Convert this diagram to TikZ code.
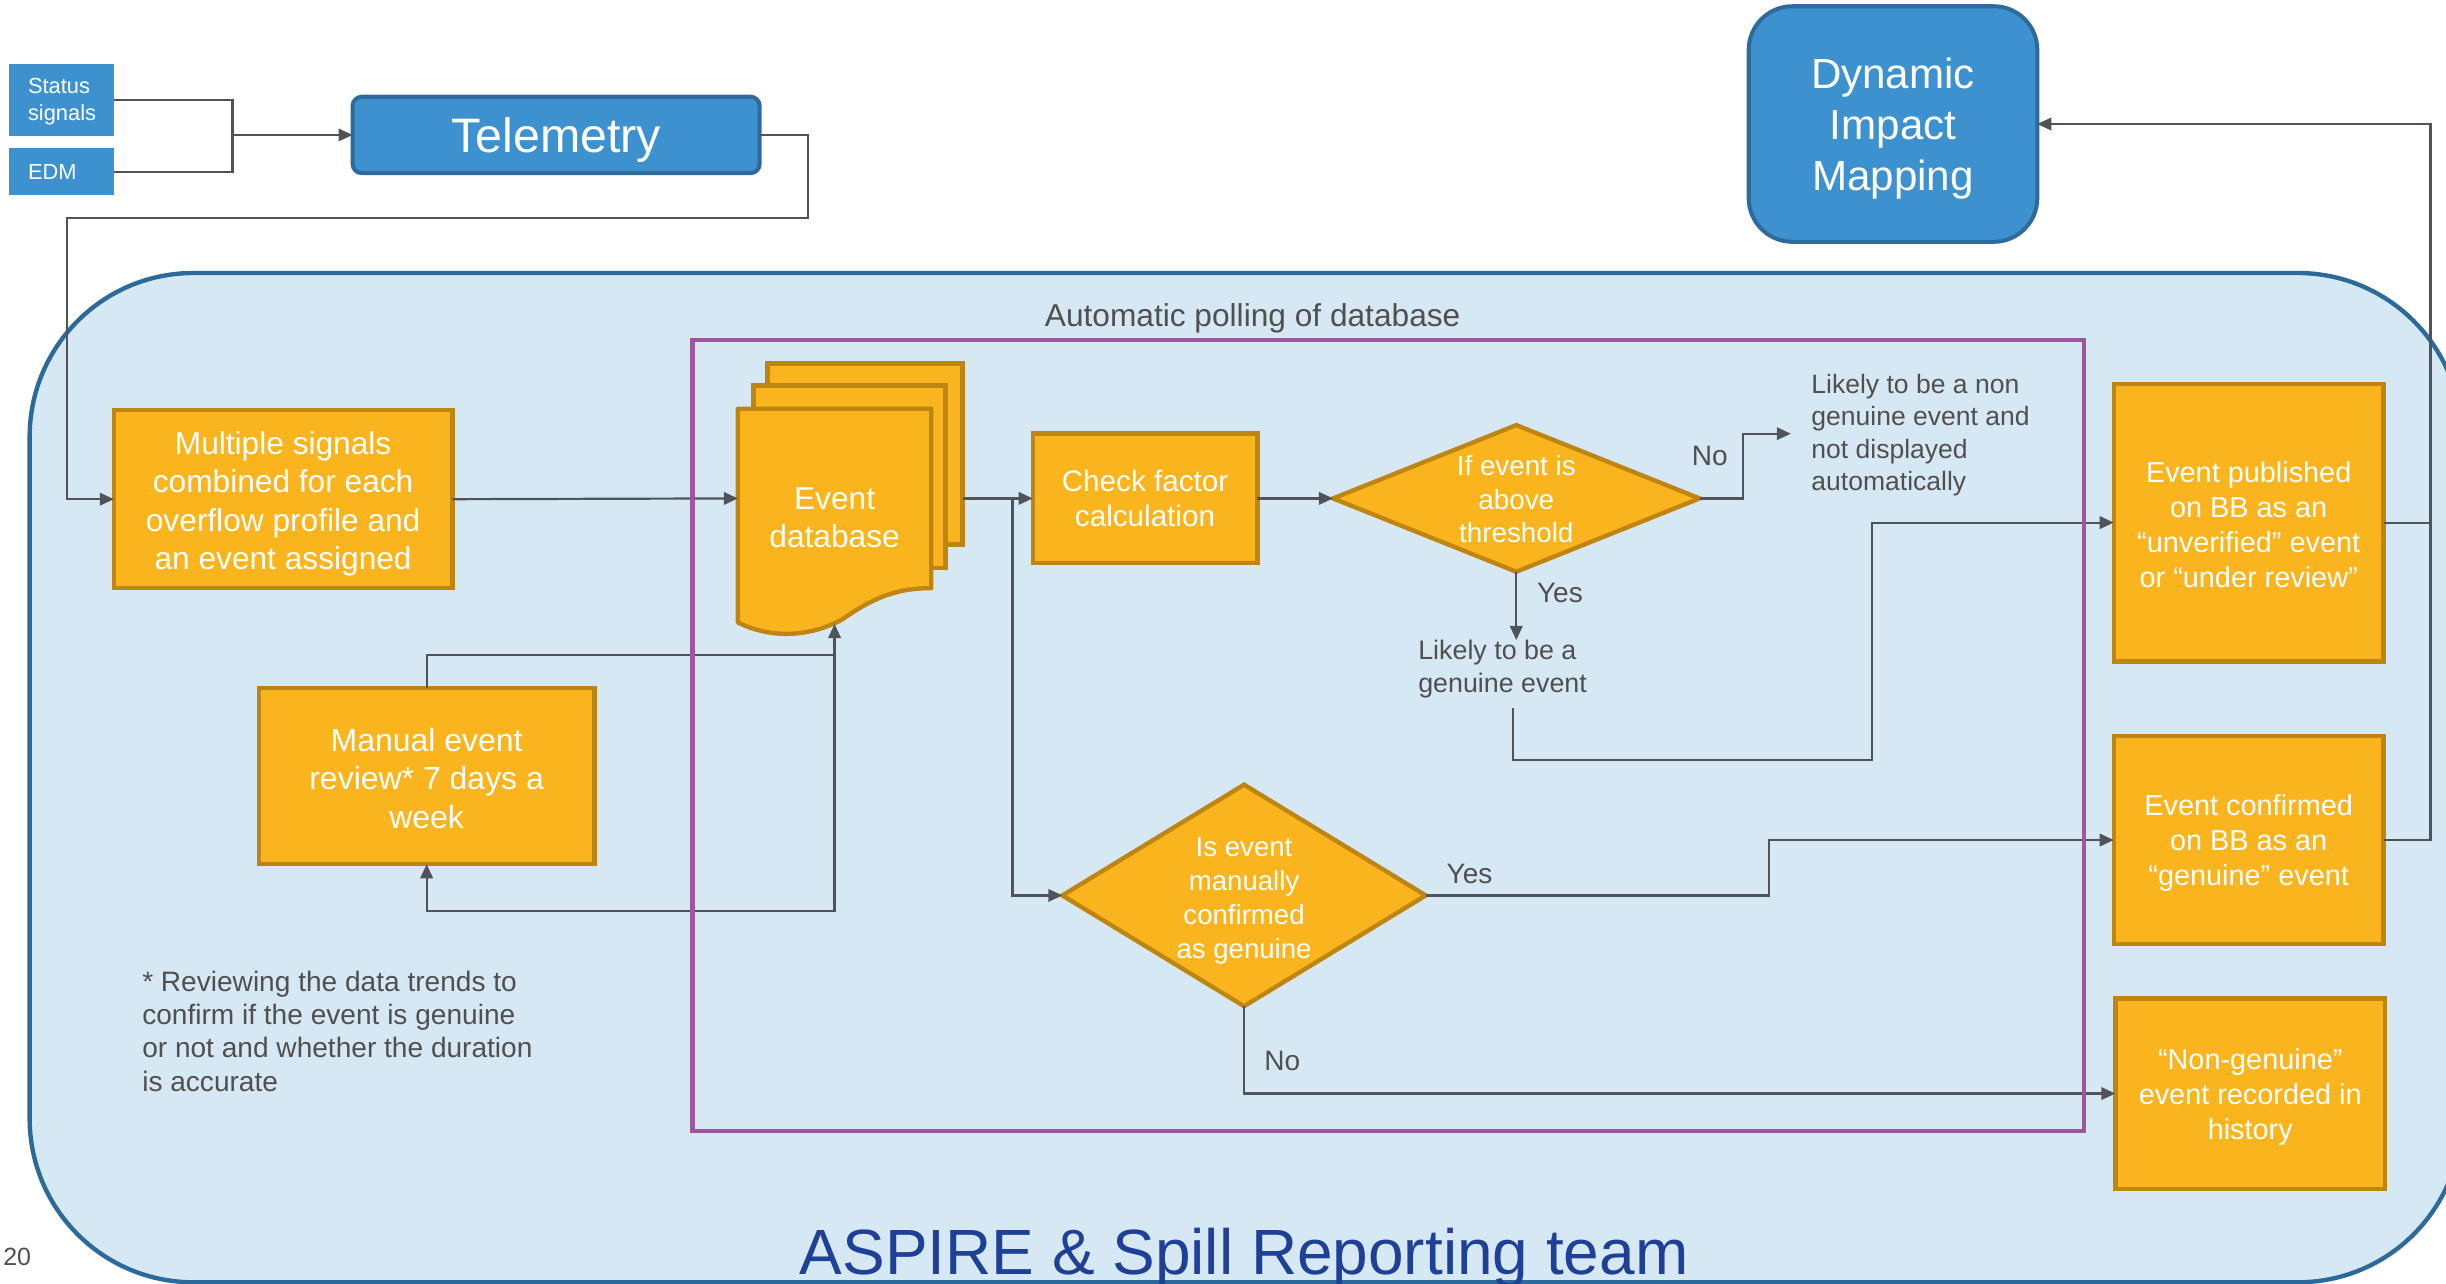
\documentclass[tikz,border=0pt]{standalone}
\usepackage{fontspec}
\setmainfont{Liberation Sans}
\usetikzlibrary{arrows.meta,shapes.geometric,calc}
\definecolor{blueF}{RGB}{61,145,207}
\definecolor{blueD}{RGB}{46,106,156}
\definecolor{bigF}{RGB}{215,232,245}
\definecolor{bigD}{RGB}{44,106,155}
\definecolor{orF}{RGB}{250,180,30}
\definecolor{orD}{RGB}{190,133,18}
\definecolor{purp}{RGB}{160,86,158}
\definecolor{lnC}{RGB}{80,84,90}
\definecolor{txC}{RGB}{80,80,80}
\definecolor{titleC}{RGB}{30,64,150}
\newcommand{\fsz}[2]{\fontsize{#1pt}{#2pt}\selectfont}
\tikzset{
  obox/.style={rectangle, fill=orF, draw=orD, line width=2.8pt, inner sep=0pt, outer sep=0pt},
  bbox/.style={rectangle, fill=blueF, draw=blueD, line width=2.6pt, inner sep=0pt, outer sep=0pt},
  sbox/.style={rectangle, fill=blueF, text=white, align=left, inner xsep=12pt, inner ysep=0pt, text width=43pt, minimum width=67pt, outer sep=0pt, font=\fsz{14}{17}},
  dia/.style={diamond, fill=orF, draw=orD, line width=2.8pt, inner sep=0pt, outer sep=0pt},
  conn/.style={draw=lnC, line width=1.4pt, -{Triangle[length=9pt,width=8pt]}},
  plain/.style={draw=lnC, line width=1.4pt},
  gtext/.style={text=txC, inner sep=0pt, align=left},
  wtext/.style={text=white, inner sep=0pt, align=center},
}
\begin{document}
\begin{tikzpicture}[x=1pt,y=-1pt]
\useasboundingbox (0,0) rectangle (1568,823);
% team area
\begin{scope}
  \clip (0,0) rectangle (1568,823);
  \draw[bigD, fill=bigF, line width=2.8pt, rounded corners=105pt] (19,175) rectangle (1578,822);
\end{scope}

% inputs
\node[sbox, minimum height=46pt] (status) at (39.5,64) {\strut Status\\signals};
\node[sbox, minimum height=30pt] (edm) at (39.5,110) {EDM};
\node[bbox, rounded corners=6pt, minimum width=261pt, minimum height=49pt] (tel) at (356.5,86.5) {};
\node[wtext, font=\fsz{31}{36}] (telt) at (356.5,89.5) {Telemetry};
\node[bbox, rounded corners=28pt, minimum width=185pt, minimum height=151pt] (dim) at (1213.5,79.5) {};
\node[wtext, font=\fsz{27}{32.5}] (dimt) at (1213.5,82.5) {Dynamic\\Impact\\Mapping};

% process boxes
\node[obox, minimum width=217pt, minimum height=114pt] (mult) at (181.5,320) {};
\node[wtext, font=\fsz{20.3}{24.5}] (multt) at (181.5,323) {Multiple signals\\combined for each\\overflow profile and\\an event assigned};
\node[obox, minimum width=215pt, minimum height=113pt] (man) at (273.5,497.5) {};
\node[wtext, font=\fsz{20.5}{24.5}] (mant) at (273.5,499) {Manual event\\review* 7 days a\\week};

% document stack
\node[obox, minimum width=125pt, minimum height=116pt] (db3) at (554.5,291) {};
\node[obox, minimum width=123pt, minimum height=117pt] (db2) at (544.5,305.5) {};
\draw[fill=orF, draw=orD, line width=2.8pt, line join=round]
  (473,262) -- (597,262) -- (597,377)
  .. controls (575,377) and (560,383) .. (540,397)
  .. controls (520,408) and (495,410) .. (473,399) -- cycle;
\node[inner sep=0pt, outer sep=0pt, minimum width=124pt, minimum height=115pt] (db) at (535,319.5) {};
\node[wtext, font=\fsz{20.3}{24}] (dbt) at (535,332) {Event\\database};
\coordinate (dbbot) at (535,400);
\coordinate (dbr) at (617,319.5);

\node[obox, minimum width=144pt, minimum height=83pt] (chk) at (734,319.5) {};
\node[wtext, font=\fsz{19}{22.5}] (chkt) at (734,319.5) {Check factor\\calculation};

\node[dia, minimum width=235pt, minimum height=94pt] (d1) at (972,319.5) {};
\node[wtext, font=\fsz{17.8}{21.5}] (d1t) at (972,320) {If event is\\above\\threshold};
\node[dia, minimum width=233pt, minimum height=142pt] (d2) at (797.5,574) {};
\node[wtext, font=\fsz{17.7}{21.8}] (d2t) at (797.5,577.5) {Is event\\manually\\confirmed\\as genuine};

\node[gtext, anchor=west, font=\fsz{17}{20.7}] (nong) at (1161,279) {Likely to be a non\\genuine event and\\not displayed\\automatically};
\node[gtext, anchor=west, font=\fsz{17.2}{21}] (gen) at (909,429) {Likely to be a\\genuine event};

\node[obox, minimum width=173pt, minimum height=178pt] (pub) at (1441.5,335) {};
\node[wtext, font=\fsz{18.5}{22.4}] (pubt) at (1441.5,336.5) {Event published\\on BB as an\\“unverified” event\\or “under review”};
\node[obox, minimum width=173pt, minimum height=133pt] (conf) at (1441.5,538.5) {};
\node[wtext, font=\fsz{18.5}{22.4}] (conft) at (1441.5,540.5) {Event confirmed\\on BB as an\\“genuine” event};
\node[obox, minimum width=173pt, minimum height=122pt] (ng) at (1442.5,701) {};
\node[wtext, font=\fsz{18.5}{22.4}] (ngt) at (1442.5,703.5) {“Non-genuine”\\event recorded in\\history};

% labels
\node[gtext, font=\fsz{18}{21}] (lno1) at (1096,292) {No};
\node[gtext, font=\fsz{18}{21}] (lyes1) at (1000,380) {Yes};
\node[gtext, font=\fsz{18}{21}] (lyes2) at (942,560) {Yes};
\node[gtext, font=\fsz{18}{21}] (lno2) at (822,680) {No};
\node[gtext, font=\fsz{20.3}{24}] (poll) at (803,204) {Automatic polling of database};
\node[gtext, anchor=west, font=\fsz{18}{21.4}] (foot) at (91,661) {* Reviewing the data trends to\\confirm if the event is genuine\\or not and whether the duration\\is accurate};
\node[gtext, font=\fsz{16}{18}] (pg) at (11,806) {20};
\node[text=titleC, inner sep=0pt, anchor=base, font=\fsz{41}{48}] (title) at (797.5,817) {ASPIRE \& Spill Reporting team};

% connectors
\coordinate (j1) at (149,86.5);
\draw[plain] (status.east) -| (j1);
\draw[plain] (edm.east) -| (j1);
\draw[conn] (j1) -- (tel.west);
\draw[conn] (tel.east) -- ++(31,0) |- (43,140) |- (mult.west);
\draw[conn] (mult.east) -- (db.west);
\draw[conn] (dbr) -- (chk.west);
\coordinate (br) at (649,319.5);
\draw[conn] (br) |- (d2.west);
\draw[conn] (chk.east) -- (d1.west);
\draw[conn] (d1.east) -- ++(28,0) |- ($(nong.west)+(-13,-1)$);
\draw[conn] (d1.south) -- (d1.south |- gen.north);
\draw[conn] ($(gen.south -| d1.south)+(-2,6)$) |- (1200,487) |- (pub.west);
\draw[conn] (d2.east) -- (1134,574) |- (conf.west);
\draw[conn] (d2.south) |- (ng.west);
\coordinate (mj) at (535,420);
\draw[conn] (man.north) |- (mj) -- (dbbot);
\draw[conn] (mj) -- (535,584) -| (man.south);
\coordinate (rtx) at (1558,0);
\draw[conn] (pub.east) -| (dim.east -| rtx) -- (dim.east);
\draw[plain] (conf.east) -| (dim.east -| rtx);

% polling frame
\draw[purp, line width=2.8pt] (444,218) rectangle (1336,725);
\end{tikzpicture}
\end{document}
